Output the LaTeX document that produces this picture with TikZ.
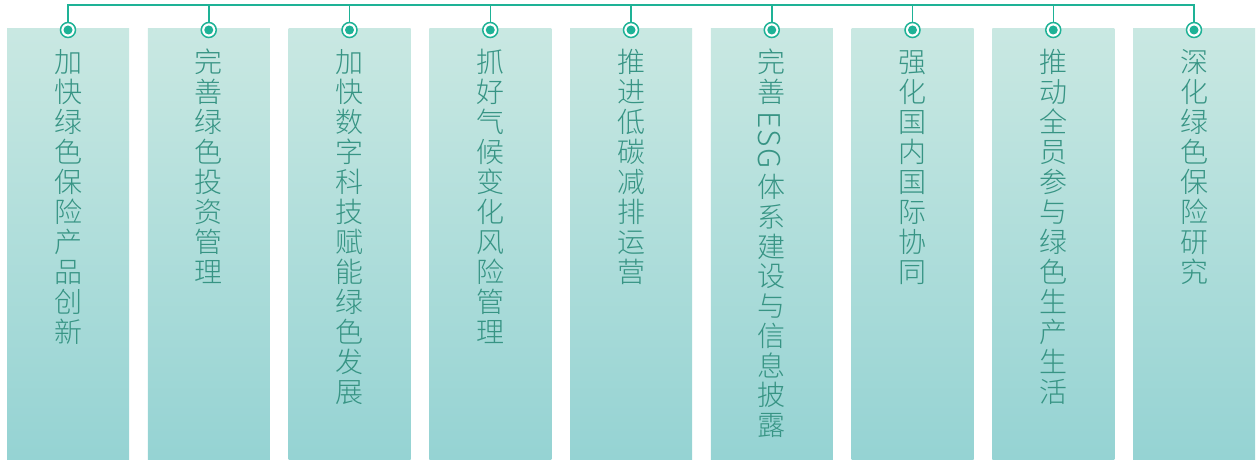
\documentclass[tikz,border=0pt]{standalone}
\usepackage{fontspec}
\newfontfamily\cjk{Noto Sans CJK SC Light}
\definecolor{linec}{RGB}{30,178,150}
\definecolor{boxtop}{RGB}{201,232,226}
\definecolor{boxbot}{RGB}{149,211,211}
\definecolor{txtc}{RGB}{55,148,132}
\newcommand\mycol[2]{\foreach \ch [count=\k from 0] in {#2}{\node[ch] (c#1-\k) at ({68+140.75*#1},{72.6+30*\k}) {\ch};}}
\begin{document}
\begin{tikzpicture}[x=1pt,y=-1pt,
  ch/.style={font=\cjk\fontsize{28}{30}\selectfont, text=txtc, inner sep=0pt, anchor=base},
  ring/.style={circle, draw=linec, line width=1.5pt, fill=white, minimum size=15pt, inner sep=0pt},
  dotc/.style={circle, fill=linec, minimum size=9pt, inner sep=0pt},
  conn/.style={draw=linec, line width=1.5pt}]
\useasboundingbox (0,0) rectangle (1256,460);
\foreach \i in {0,...,8}{
  \pgfmathsetmacro\cx{68+140.75*\i}
  \shade[top color=boxtop,bottom color=boxbot] (\cx-61,29) rectangle (\cx+61,459);
  \coordinate (t\i) at (\cx,5);
  \node[ring] (r\i) at (\cx,30) {};
  \node[dotc] (d\i) at (\cx,30) {};
  \draw[conn] (t\i) -- (r\i.north);
}
\draw[conn, line cap=rect] (t0) -- (t8);
\mycol{0}{加,快,绿,色,保,险,产,品,创,新}
\mycol{1}{完,善,绿,色,投,资,管,理}
\mycol{2}{加,快,数,字,科,技,赋,能,绿,色,发,展}
\mycol{3}{抓,好,气,候,变,化,风,险,管,理}
\mycol{4}{推,进,低,碳,减,排,运,营}
\mycol{6}{强,化,国,内,国,际,协,同}
\mycol{7}{推,动,全,员,参,与,绿,色,生,产,生,活}
\mycol{8}{深,化,绿,色,保,险,研,究}
% column with ESG
\foreach \ch [count=\k from 0] in {完,善}{\node[ch] (c5-\k) at (771.75,{72.6+30*\k}) {\ch};}
\node[ch, anchor=center, rotate=-90, font=\cjk\fontsize{30}{30}\selectfont] (esg) at (769,140) {E\hspace{1pt}S\hspace{1pt}G};
\foreach \ch [count=\k from 0] in {体,系,建,设,与,信,息,披,露}{\node[ch] (e5-\k) at (771.75,{197.6+29.75*\k}) {\ch};}
\end{tikzpicture}
\end{document}
